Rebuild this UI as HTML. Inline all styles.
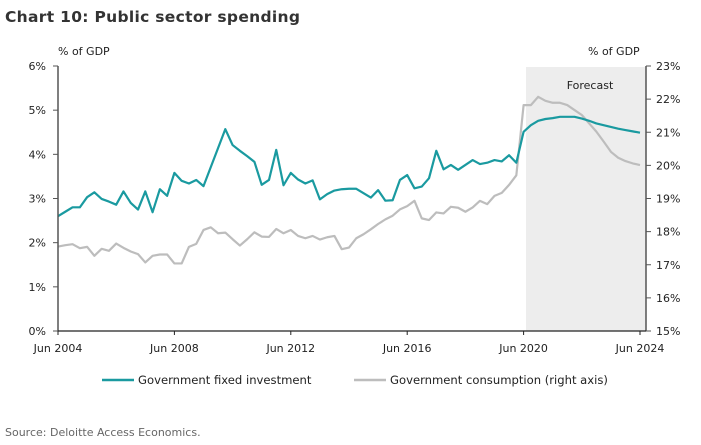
<!DOCTYPE html>
<html><head><meta charset="utf-8"><style>
body{margin:0;background:#fff;width:701px;height:441px;overflow:hidden;font-family:"DejaVu Sans","Liberation Sans",sans-serif}
svg text{font-family:"DejaVu Sans","Liberation Sans",sans-serif}
</style></head><body>
<svg width="701" height="441" xmlns="http://www.w3.org/2000/svg" id="chart">
<text x="5" y="22" font-size="15.5" font-weight="bold" fill="#333" letter-spacing="0.3">Chart 10:  Public sector spending</text>
<text x="58" y="55" font-size="11" fill="#222">% of GDP</text>
<text x="588" y="55" font-size="11" fill="#222">% of GDP</text>
<rect x="526" y="67" width="120" height="264" fill="#ededed"/>
<text x="590" y="89" font-size="11" fill="#222" text-anchor="middle">Forecast</text>
<g id="ticks"></g>
<g id="series"></g>
<line x1="58" y1="66" x2="58" y2="331" stroke="#555" stroke-width="1.5"/>
<line x1="646" y1="66" x2="646" y2="331" stroke="#555" stroke-width="1.5"/>
<line x1="58" y1="331" x2="646" y2="331" stroke="#222" stroke-width="1.2"/>
<g>
<line x1="102" y1="380" x2="134" y2="380" stroke="#1a9aa0" stroke-width="2.5"/>
<text x="138" y="384" font-size="11.6" fill="#222">Government fixed investment</text>
<line x1="354" y1="380" x2="386" y2="380" stroke="#bdbdbd" stroke-width="2.5"/>
<text x="390" y="384" font-size="11.6" fill="#222">Government consumption (right axis)</text>
</g>
<text x="5" y="436" font-size="11" fill="#666">Source: Deloitte Access Economics.</text>
</svg>
<script>
const investment=[2.60,2.70,2.80,2.80,3.03,3.14,2.99,2.93,2.86,3.16,2.90,2.75,3.16,2.69,3.21,3.06,3.58,3.40,3.34,3.42,3.28,3.71,4.14,4.57,4.21,4.08,3.96,3.83,3.31,3.42,4.10,3.30,3.58,3.43,3.34,3.41,2.98,3.10,3.18,3.21,3.22,3.22,3.12,3.02,3.19,2.95,2.96,3.42,3.53,3.23,3.27,3.46,4.08,3.66,3.76,3.65,3.76,3.87,3.78,3.81,3.87,3.84,3.98,3.81,4.51,4.66,4.76,4.80,4.82,4.85,4.85,4.85,4.81,4.76,4.70,4.66,4.62,4.58,4.55,4.52,4.49];
const consumption=[17.55,17.59,17.62,17.50,17.54,17.27,17.48,17.42,17.64,17.51,17.40,17.32,17.07,17.27,17.31,17.31,17.04,17.04,17.54,17.63,18.05,18.13,17.95,17.97,17.77,17.58,17.77,17.98,17.85,17.84,18.08,17.95,18.05,17.87,17.80,17.87,17.76,17.83,17.87,17.47,17.52,17.80,17.92,18.07,18.23,18.37,18.48,18.67,18.77,18.93,18.40,18.35,18.58,18.55,18.75,18.72,18.60,18.73,18.93,18.83,19.08,19.17,19.41,19.70,21.82,21.82,22.07,21.95,21.89,21.89,21.82,21.67,21.52,21.27,21.02,20.72,20.41,20.23,20.13,20.06,20.01];
const leftTicks=[0,1,2,3,4,5,6];
const rightTicks=[15,16,17,18,19,20,21,22,23];
const xTickLabels=["Jun 2004","Jun 2008","Jun 2012","Jun 2016","Jun 2020","Jun 2024"];
const xTickQuarters=[0,16,32,48,64,80];
const NS="http://www.w3.org/2000/svg";
const xS=i=>58+i*(582/80);
const yL=v=>331-v/6*265;
const yR=v=>331-(v-15)/8*265;
const tg=document.getElementById('ticks'),sg=document.getElementById('series');
function mk(tag,at,parent){const e=document.createElementNS(NS,tag);for(const k in at)e.setAttribute(k,at[k]);parent.appendChild(e);return e;}
leftTicks.forEach(v=>{
 const l=mk('line',{x1:53,x2:58,y1:yL(v),y2:yL(v),stroke:'#555'},tg);
 
 
 const t=mk('text',{x:46,y:yL(v)+4,'font-size':11,fill:'#222','text-anchor':'end'},tg);
 t.textContent=v+'%';
 
 
});
rightTicks.forEach(v=>{
 const l=mk('line',{x1:646,x2:651,y1:yR(v),y2:yR(v),stroke:'#555'},tg);
 
 
 const t=mk('text',{x:656,y:yR(v)+4,'font-size':11,fill:'#222'},tg);
 t.textContent=v+'%';
 
 
});
xTickQuarters.forEach((q,k)=>{
 const l=mk('line',{x1:xS(q),x2:xS(q),y1:331,y2:335,stroke:'#222'},tg);
 
 
 const t=mk('text',{x:xS(q),y:352,'font-size':11,fill:'#222','text-anchor':'middle'},tg);
 t.textContent=xTickLabels[k];
 
 
});
const pc=mk('polyline',{points:consumption.map((v,i)=>xS(i)+','+yR(v)).join(' '),fill:'none',stroke:'#bdbdbd','stroke-width':2.2,'stroke-linejoin':'round'},sg);


const pi=mk('polyline',{points:investment.map((v,i)=>xS(i)+','+yL(v)).join(' '),fill:'none',stroke:'#1a9aa0','stroke-width':2.2,'stroke-linejoin':'round'},sg);


</script>
</body></html>
